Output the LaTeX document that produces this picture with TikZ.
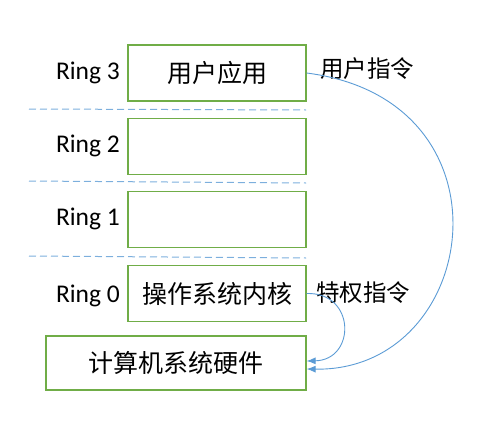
\documentclass[tikz,border=0pt]{standalone}
\usepackage{fontspec}
\setmainfont{Carlito}
\newfontfamily\cjk{Noto Sans CJK SC}
\usetikzlibrary{arrows.meta}
\definecolor{gbox}{HTML}{70AD47}
\definecolor{bline}{HTML}{5B9BD5}
\tikzset{
  ringbox/.style={draw=gbox, line width=1.2pt, minimum width=178pt, minimum height=56pt, inner sep=0pt, font=\cjk\fontsize{25}{27}\selectfont},
  ringlbl/.style={anchor=east, inner sep=0pt, font=\fontsize{25.5}{28}\selectfont},
  sep/.style={draw=bline!80, line width=1pt, dash pattern=on 7pt off 4pt},
  call/.style={draw=bline, line width=0.9pt, -{Latex[length=9pt,width=7pt]}},
  cmd/.style={anchor=west, inner sep=0pt, font=\cjk\fontsize{23.5}{26}\selectfont},
}
\begin{document}
\begin{tikzpicture}[x=1pt,y=-1pt]
\useasboundingbox (0,0) rectangle (479,439);
\node[ringbox] (r3) at (217,73) {用户应用};
\node[ringbox] (r2) at (217,146.5) {};
\node[ringbox] (r1) at (217,219.5) {};
\node[ringbox] (r0) at (217,293.5) {操作系统内核};
\node[ringbox, minimum width=260pt, minimum height=54pt] (hw) at (176,363) {计算机系统硬件};
\node[ringlbl] (l3) at (120,73) {Ring 3};
\node[ringlbl] (l2) at (120,146) {Ring 2};
\node[ringlbl] (l1) at (120,219) {Ring 1};
\node[ringlbl] (l0) at (120,296) {Ring 0};
\coordinate (d1a) at (29,109); \coordinate (d1b) at (306,110);
\coordinate (d2a) at (29,181); \coordinate (d2b) at (306,183);
\coordinate (d3a) at (29,256); \coordinate (d3b) at (306,258);
\draw[sep] (d1a) -- (d1b);
\draw[sep] (d2a) -- (d2b);
\draw[sep] (d3a) -- (d3b);
\node[cmd] (u) at (320,69) {用户指令};
\node[cmd] (p) at (316,293) {特权指令};
\coordinate (hwa) at (hw.east |- 0,369);
\coordinate (hwb) at (hw.east |- 0,361);
\draw[call] (r3.east) .. controls (520,100) and (480,372) .. (hwa);
\draw[call] (r0.east) .. controls (356,292) and (356,360) .. (hwb);
\end{tikzpicture}
\end{document}
